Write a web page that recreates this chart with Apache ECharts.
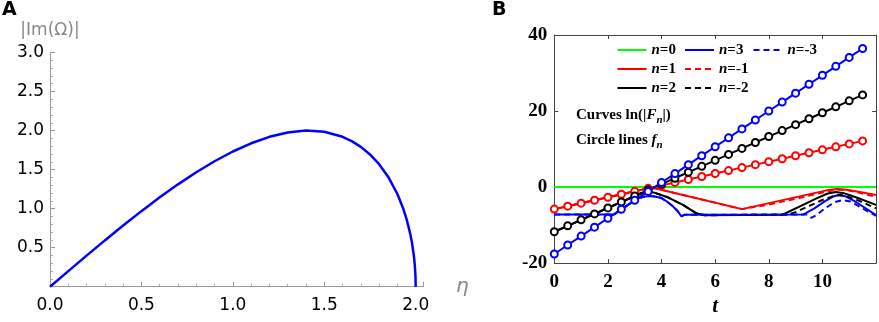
<!DOCTYPE html>
<html>
<head>
<meta charset="utf-8">
<script src="https://cdn.jsdelivr.net/npm/echarts@6/dist/echarts.min.js"></script>
<style>
  html, body { margin: 0; padding: 0; background: #fff; }
  #chart { width: 879px; height: 322px; }
</style>
</head>
<body>
<div id="chart"></div>
<script>
// panel A: |Im(Omega)| against eta
var etaVals = [0, 0.1, 0.2, 0.3, 0.4, 0.5, 0.6, 0.7, 0.8, 0.9, 1.0, 1.1, 1.2, 1.3, 1.4, 1.5, 1.6, 1.65, 1.7, 1.75, 1.8, 1.85, 1.9, 1.93, 1.95, 1.97, 1.98, 1.99, 1.995, 1.999, 2.0];
var imOmega = [0, 0.2, 0.398, 0.593, 0.784, 0.968, 1.145, 1.311, 1.466, 1.607, 1.732, 1.837, 1.92, 1.976, 2.0, 1.984, 1.92, 1.865, 1.791, 1.694, 1.569, 1.406, 1.187, 1.012, 0.867, 0.68, 0.559, 0.397, 0.282, 0.126, 0];

// panel B: circle lines f_n, sampled every 0.5 in t
var tCircle = [0, 0.5, 1, 1.5, 2, 2.5, 3, 3.5, 4, 4.5, 5, 5.5, 6, 6.5, 7, 7.5, 8, 8.5, 9, 9.5, 10, 10.5, 11, 11.5];
var f1 = [-5.8, -5.02, -4.24, -3.46, -2.68, -1.9, -1.12, -0.34, 0.44, 1.22, 2.0, 2.78, 3.56, 4.34, 5.12, 5.9, 6.68, 7.46, 8.24, 9.02, 9.8, 10.58, 11.36, 12.14];
var f2 = [-11.75, -10.19, -8.62, -7.06, -5.49, -3.93, -2.36, -0.8, 0.77, 2.33, 3.9, 5.46, 7.03, 8.59, 10.16, 11.72, 13.29, 14.85, 16.42, 17.98, 19.55, 21.11, 22.68, 24.24];
var f3 = [-17.6, -15.25, -12.9, -10.55, -8.2, -5.85, -3.5, -1.15, 1.2, 3.55, 5.9, 8.25, 10.6, 12.95, 15.3, 17.65, 20.0, 22.35, 24.7, 27.05, 29.4, 31.75, 34.1, 36.45];

// panel B: curves ln(|F_n|)
var lnF0t = [0, 12];
var lnF0 = [0, 0];
var lnF1t = [0, 0.5, 1, 1.5, 2, 2.5, 3, 3.5, 3.75, 7.0, 10.2, 10.55, 10.9, 11.4, 12];
var lnF1 = [-5.8, -5.02, -4.24, -3.46, -2.68, -1.9, -1.12, -0.34, -0.3, -5.8, -0.8, -0.5, -0.7, -1.3, -2.1];
var lnFm1t = [0, 0.5, 1, 1.5, 2, 2.5, 3, 3.5, 3.75, 7.0, 8.0, 9.0, 10.2, 10.6, 11.0, 11.5, 12];
var lnFm1 = [-5.8, -5.02, -4.24, -3.46, -2.68, -1.9, -1.12, -0.34, -0.3, -5.8, -4.6, -3.1, -1.1, -0.7, -0.9, -1.7, -2.6];
var lnF2t = [0, 0.5, 1, 1.5, 2, 2.5, 3, 3.2, 3.45, 3.7, 4.2, 4.8, 5.3, 5.6, 8.5, 8.8, 9.3, 9.8, 10.2, 10.5, 10.8, 11.3, 12];
var lnF2 = [-11.75, -10.19, -8.62, -7.06, -5.49, -3.93, -2.36, -1.75, -1.35, -1.4, -2.6, -4.7, -6.9, -7.4, -7.3, -6.3, -4.6, -2.9, -1.7, -1.3, -1.6, -2.8, -4.7];
var lnFm2t = [0, 0.5, 1, 1.5, 2, 2.5, 3, 3.2, 3.45, 3.7, 4.2, 4.8, 5.3, 5.6, 8.7, 9.0, 9.5, 10.0, 10.4, 10.65, 10.9, 11.4, 12];
var lnFm2 = [-11.75, -10.19, -8.62, -7.06, -5.49, -3.93, -2.36, -1.75, -1.35, -1.4, -2.6, -4.7, -6.9, -7.4, -7.3, -6.6, -5.0, -3.4, -2.4, -2.1, -2.4, -3.7, -5.6];
var lnF3t = [0, 2.23, 2.6, 3.0, 3.2, 3.4, 3.57, 3.75, 4.0, 4.2, 4.4, 4.6, 4.74, 4.85, 9.3, 9.7, 10.1, 10.4, 10.6, 10.85, 11.2, 11.6, 12];
var lnF3 = [-7.2, -7.2, -5.4, -3.5, -2.8, -2.45, -2.35, -2.5, -2.9, -3.8, -4.9, -6.3, -7.7, -7.3, -7.2, -5.6, -3.7, -2.5, -2.1, -2.4, -3.7, -5.5, -7.4];
var lnFm3t = [0, 2.23, 2.6, 3.0, 3.2, 3.4, 3.57, 3.75, 4.0, 4.2, 4.4, 4.6, 4.74, 4.85, 9.4, 9.5, 9.58, 9.75, 10.1, 10.45, 10.76, 11.05, 11.5, 12];
var lnFm3 = [-7.2, -7.2, -5.4, -3.5, -2.8, -2.45, -2.35, -2.5, -2.9, -3.8, -4.9, -6.3, -7.7, -7.3, -7.2, -7.6, -8.1, -7.5, -5.6, -4.0, -3.4, -3.8, -5.6, -7.6];

var legendCol1 = ["n=0", "n=1", "n=2"];
var legendCol2 = ["n=3", "n=-1", "n=-2"];
var legendCol3 = ["n=-3"];

function zip(xs, ys) {
  var out = [];
  for (var i = 0; i < xs.length; i++) out.push([xs[i], ys[i]]);
  return out;
}

var serif = "Liberation Serif";
var sans = "DejaVu Sans";

var legendRich = {
  i: { fontFamily: serif, fontWeight: "bold", fontStyle: "italic", fontSize: 15, lineHeight: 13 },
  b: { fontFamily: serif, fontWeight: "bold", fontSize: 15, lineHeight: 13 }
};
function legendFmt(name) {
  return "{i|n}{b|" + name.slice(1) + "}";
}
function makeLegend(data, left) {
  return {
    data: data,
    orient: "vertical",
    left: left,
    top: 42.5,
    padding: 0,
    itemWidth: 29,
    itemHeight: 2,
    itemGap: 4,
    selectedMode: false,
    itemStyle: { opacity: 0 },
    formatter: legendFmt,
    textStyle: { color: "#000", fontFamily: serif, fontWeight: "bold", fontSize: 15, lineHeight: 13, rich: legendRich }
  };
}

function curve(name, color, xs, ys, dashed) {
  return {
    name: name,
    type: "line",
    xAxisIndex: 1,
    yAxisIndex: 1,
    data: zip(xs, ys),
    symbol: "none",
    lineStyle: { color: color, width: 2, type: dashed ? [6, 4] : "solid" },
    itemStyle: { color: color },
    animation: false
  };
}
function circles(name, color, ys) {
  return {
    name: name,
    type: "line",
    xAxisIndex: 1,
    yAxisIndex: 1,
    data: zip(tCircle, ys),
    symbol: "emptyCircle",
    symbolSize: 7,
    showAllSymbol: true,
    lineStyle: { color: color, width: 2 },
    itemStyle: { color: color, borderWidth: 1.5 },
    animation: false
  };
}

var boxAxisStyle = { color: "#444", width: 1 };

var chart = echarts.init(document.getElementById("chart"));
chart.setOption({
  backgroundColor: "#fff",
  animation: false,
  grid: [
    { left: 50, top: 52.5, width: 373, height: 234.2 },
    { left: 554.3, top: 35, width: 321.7, height: 232.7 }
  ],
  legend: [makeLegend(legendCol1, 616.5), makeLegend(legendCol2, 684), makeLegend(legendCol3, 752.5)],
  xAxis: [
    {
      gridIndex: 0,
      type: "value",
      min: 0,
      max: 2.04,
      interval: 0.5,
      axisLine: { lineStyle: { color: "#999", width: 1 } },
      axisTick: { inside: true, length: 5, lineStyle: { color: "#999" } },
      minorTick: { show: true, splitNumber: 5, length: 3, lineStyle: { color: "#aaa" } },
      splitLine: { show: false },
      axisLabel: {
        showMaxLabel: false,
        color: "#000",
        fontFamily: sans,
        fontSize: 17,
        margin: 10,
        formatter: function (v) { return v.toFixed(1); }
      },
      name: "η",
      nameLocation: "end",
      nameGap: 33,
      nameTextStyle: { color: "#888", fontStyle: "italic", fontFamily: sans, fontSize: 20 }
    },
    {
      gridIndex: 1,
      type: "value",
      min: 0,
      max: 12,
      interval: 2,
      axisLine: { onZero: false, lineStyle: boxAxisStyle },
      axisTick: { inside: true, length: 4, lineStyle: boxAxisStyle },
      splitLine: { show: false },
      axisLabel: { showMaxLabel: false, color: "#000", fontFamily: serif, fontWeight: "bold", fontSize: 19, margin: 9 },
      name: "t",
      nameLocation: "middle",
      nameGap: 31,
      nameTextStyle: { color: "#000", fontFamily: serif, fontWeight: "bold", fontStyle: "italic", fontSize: 21 }
    },
    {
      gridIndex: 1,
      type: "value",
      position: "top",
      min: 0,
      max: 12,
      interval: 2,
      axisLine: { onZero: false, lineStyle: boxAxisStyle },
      axisTick: { inside: true, length: 4, lineStyle: boxAxisStyle },
      splitLine: { show: false },
      axisLabel: { show: false }
    }
  ],
  yAxis: [
    {
      gridIndex: 0,
      type: "value",
      min: 0,
      max: 3,
      interval: 0.5,
      axisLine: { show: true, lineStyle: { color: "#999", width: 1 } },
      axisTick: { show: true, inside: true, length: 5, lineStyle: { color: "#999" } },
      minorTick: { show: true, splitNumber: 5, length: 3, lineStyle: { color: "#aaa" } },
      splitLine: { show: false },
      axisLabel: {
        color: "#000",
        fontFamily: sans,
        fontSize: 17,
        margin: 6,
        formatter: function (v) { return v === 0 ? "" : v.toFixed(1); }
      },
      name: "|Im(Ω)|",
      nameLocation: "end",
      nameGap: 13,
      nameTextStyle: { color: "#888", fontFamily: sans, fontSize: 17, align: "center" }
    },
    {
      gridIndex: 1,
      type: "value",
      min: -20,
      max: 40,
      interval: 20,
      axisLine: { show: true, onZero: false, lineStyle: boxAxisStyle },
      axisTick: { show: true, inside: true, length: 4, lineStyle: boxAxisStyle },
      splitLine: { show: false },
      axisLabel: { color: "#000", fontFamily: serif, fontWeight: "bold", fontSize: 19, margin: 7 }
    },
    {
      gridIndex: 1,
      type: "value",
      position: "right",
      min: -20,
      max: 40,
      interval: 20,
      axisLine: { show: true, onZero: false, lineStyle: boxAxisStyle },
      axisTick: { show: true, inside: true, length: 4, lineStyle: boxAxisStyle },
      splitLine: { show: false },
      axisLabel: { show: false }
    }
  ],
  graphic: [
    { type: "text", left: 2, top: 1, style: { text: "A", fill: "#000", font: "bold 19px " + sans } },
    { type: "text", left: 492, top: 1, style: { text: "B", fill: "#000", font: "bold 19px " + sans } },
    {
      type: "text", left: 576, top: 107.5,
      style: {
        text: "{b|Curves ln(|}{bi|F}{sub|n}{b||)}",
        fill: "#000",
        rich: {
          b: { fontFamily: serif, fontWeight: "bold", fontSize: 15, lineHeight: 22 },
          bi: { fontFamily: serif, fontWeight: "bold", fontStyle: "italic", fontSize: 15, lineHeight: 22 },
          sub: { fontFamily: serif, fontWeight: "bold", fontStyle: "italic", fontSize: 11, lineHeight: 22, verticalAlign: "bottom" }
        }
      }
    },
    {
      type: "text", left: 576, top: 132.3,
      style: {
        text: "{b|Circle lines }{bi|f}{sub|n}",
        fill: "#000",
        rich: {
          b: { fontFamily: serif, fontWeight: "bold", fontSize: 15, lineHeight: 22 },
          bi: { fontFamily: serif, fontWeight: "bold", fontStyle: "italic", fontSize: 15, lineHeight: 22 },
          sub: { fontFamily: serif, fontWeight: "bold", fontStyle: "italic", fontSize: 11, lineHeight: 22, verticalAlign: "bottom" }
        }
      }
    }
  ],
  series: [
    {
      name: "imOmega",
      type: "line",
      xAxisIndex: 0,
      yAxisIndex: 0,
      data: zip(etaVals, imOmega),
      symbol: "none",
      smooth: false,
      lineStyle: { color: "#0000ff", width: 2.5 },
      animation: false
    },
    curve("n=0", "#00ff00", lnF0t, lnF0, false),
    curve("n=1", "#ff0000", lnF1t, lnF1, false),
    curve("n=2", "#000000", lnF2t, lnF2, false),
    curve("n=3", "#0000ff", lnF3t, lnF3, false),
    curve("n=-1", "#ff0000", lnFm1t, lnFm1, true),
    curve("n=-2", "#000000", lnFm2t, lnFm2, true),
    curve("n=-3", "#0000ff", lnFm3t, lnFm3, true),
    circles("f1", "#ff0000", f1),
    circles("f2", "#000000", f2),
    circles("f3", "#0000ff", f3)
  ]
});
</script>
</body>
</html>
